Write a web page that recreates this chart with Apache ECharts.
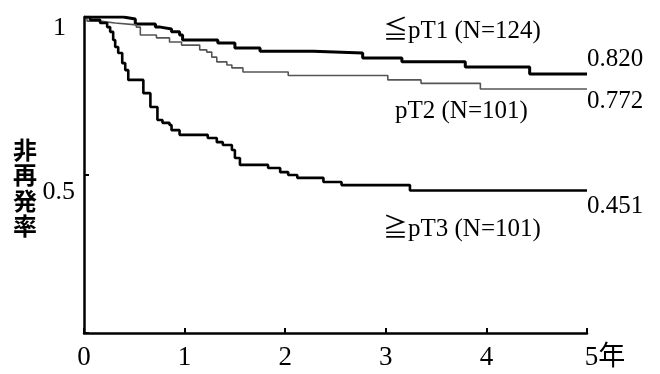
<!DOCTYPE html>
<html>
<head>
<meta charset="utf-8">
<script src="https://cdn.jsdelivr.net/npm/echarts@6/dist/echarts.min.js"></script>
<style>
  html, body { margin: 0; padding: 0; background: #fff; }
  #chart { width: 660px; height: 374px; }
</style>
</head>
<body>
<div id="chart"></div>
<script>
// Kaplan-Meier non-recurrence rate by pT stage
const pT1Time = [0, 0.39, 0.51, 0.71, 0.76, 0.87, 0.95, 0.98, 1.33, 1.50, 1.75, 2.28, 2.77, 3.16, 3.79, 4.43, 5];
const pT1Rate = [1, 0.994, 0.978, 0.968, 0.962, 0.953, 0.943, 0.927, 0.918, 0.902, 0.892, 0.886, 0.870, 0.858, 0.842, 0.820, 0.820];

const pT2Time = [0, 0.03, 0.16, 0.31, 0.52, 0.56, 0.72, 0.85, 0.97, 1.15, 1.22, 1.27, 1.32, 1.42, 1.47, 1.58, 2.03, 3.02, 3.35, 3.94, 5];
const pT2Rate = [1, 0.987, 0.981, 0.975, 0.968, 0.943, 0.934, 0.921, 0.911, 0.896, 0.889, 0.873, 0.858, 0.848, 0.839, 0.826, 0.815, 0.801, 0.790, 0.772, 0.772];

const pT3Time = [0, 0.06, 0.16, 0.23, 0.26, 0.29, 0.31, 0.34, 0.38, 0.41, 0.44, 0.59, 0.66, 0.73, 0.78, 0.85, 0.87, 0.95, 1.23, 1.32, 1.38, 1.47, 1.50, 1.55, 1.83, 1.95, 2.03, 2.12, 2.38, 2.56, 3.24, 5];
const pT3Rate = [1, 0.991, 0.981, 0.968, 0.953, 0.927, 0.905, 0.886, 0.854, 0.832, 0.801, 0.759, 0.715, 0.674, 0.665, 0.658, 0.642, 0.627, 0.617, 0.604, 0.595, 0.579, 0.554, 0.532, 0.522, 0.509, 0.500, 0.491, 0.478, 0.468, 0.451, 0.451];

const groupNames = ['≦pT1 (N=124)', 'pT2 (N=101)', '≧pT3 (N=101)'];
const yTitle = '非再発率';
const xUnit = '年';

const serif = '"Liberation Serif", "Noto Sans CJK JP", serif';

const pairs = (t, s) => t.map((x, i) => [x, s[i]]);

const chart = echarts.init(document.getElementById('chart'));

function curve(name, t, s, width, color, labelOffset) {
  return {
    name: name,
    type: 'line',
    step: 'end',
    symbol: 'none',
    silent: true,
    data: pairs(t, s),
    lineStyle: { color: color, width: width },
    endLabel: {
      show: true,
      formatter: p => p.value[1].toFixed(3),
      color: '#000',
      fontFamily: serif,
      fontSize: 25,
      offset: labelOffset
    }
  };
}

chart.setOption({
  animation: false,
  backgroundColor: '#fff',
  grid: { left: 84, right: 73, top: 17, bottom: 41 },
  xAxis: {
    type: 'value',
    min: 0,
    max: 5,
    interval: 1,
    axisLine: { lineStyle: { color: '#000', width: 2.5 } },
    axisTick: { inside: true, length: 5, lineStyle: { color: '#000', width: 2 } },
    splitLine: { show: false },
    axisLabel: {
      color: '#000',
      fontFamily: serif,
      fontSize: 27,
      margin: 11,
      formatter: v => v === 5 ? '{five|' + v + xUnit + '}' : String(v),
      rich: {
        five: { fontFamily: serif, fontSize: 27, color: '#000', padding: [0, 0, 0, 36] }
      }
    }
  },
  yAxis: {
    type: 'value',
    min: 0,
    max: 1,
    interval: 0.5,
    axisLine: { show: true, lineStyle: { color: '#000', width: 2.5 } },
    axisTick: { show: true, inside: true, length: 5, lineStyle: { color: '#000', width: 2 } },
    splitLine: { show: false },
    axisLabel: {
      margin: 9,
      formatter: v => v === 1 ? '{one|1}' : (v === 0.5 ? '{half|0.5}' : ''),
      rich: {
        one: { fontFamily: serif, fontSize: 26, color: '#000', padding: [22, 9, 0, 0] },
        half: { fontFamily: serif, fontSize: 26, color: '#000', padding: [34, 0, 0, 0] }
      }
    }
  },
  graphic: [
    {
      type: 'text', left: 383, top: 19,
      style: { text: groupNames[0], font: '25px ' + serif, fill: '#000' }
    },
    {
      type: 'text', left: 395, top: 99,
      style: { text: groupNames[1], font: '25px ' + serif, fill: '#000' }
    },
    {
      type: 'text', left: 383, top: 217,
      style: { text: groupNames[2], font: '25px ' + serif, fill: '#000' }
    },
    {
      type: 'text', x: 25, y: 188,
      style: {
        text: yTitle.split('').join('\n'),
        font: 'bold 24px "Noto Sans CJK JP"',
        fill: '#000',
        align: 'center',
        verticalAlign: 'middle',
        lineHeight: 25.5
      }
    }
  ],
  series: [
    curve(groupNames[0], pT1Time, pT1Rate, 3, '#000', [-8, -14]),
    curve(groupNames[1], pT2Time, pT2Rate, 1.6, '#555', [-8, 12]),
    curve(groupNames[2], pT3Time, pT3Rate, 2.6, '#000', [-8, 16])
  ]
});
</script>
</body>
</html>
